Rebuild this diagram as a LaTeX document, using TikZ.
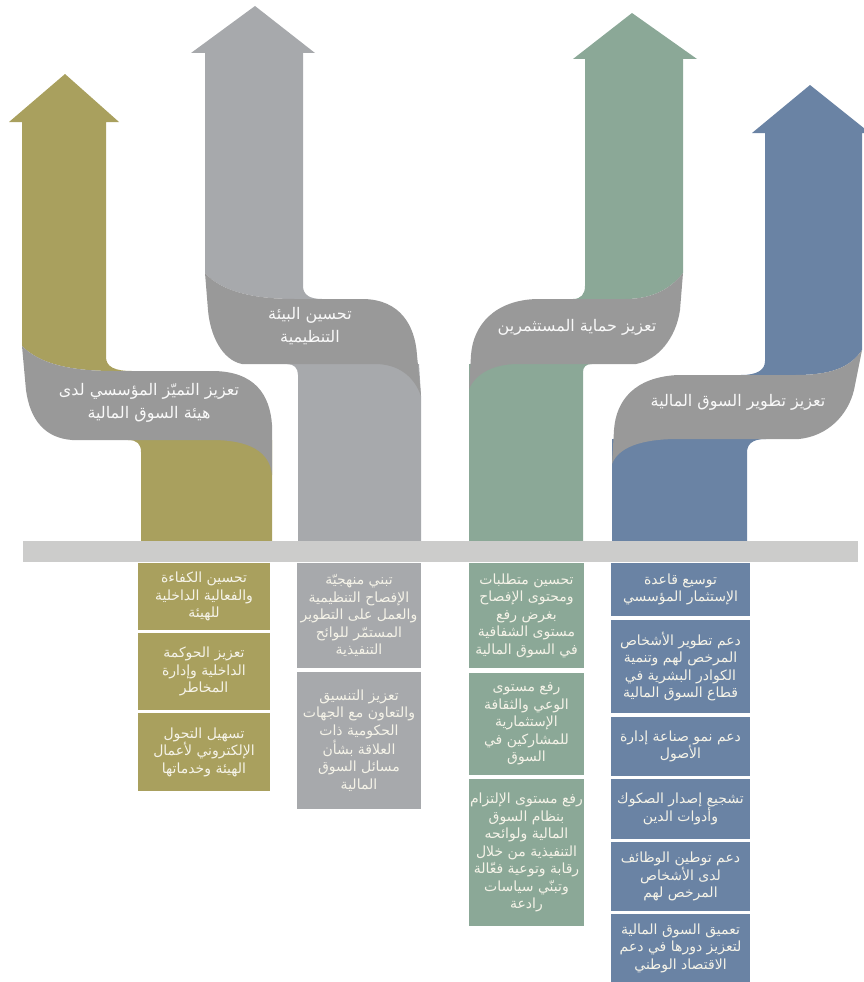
\documentclass[tikz,border=0pt]{standalone}
\usepackage{fontspec}
\TeXXeTstate=1
\newfontfamily\arabicfont[Script=Arabic]{DejaVu Sans}
\newcommand{\arl}[1]{\beginR #1\endR}
\definecolor{olivec}{RGB}{169,160,94}
\definecolor{graya}{RGB}{167,169,172}
\definecolor{greenc}{RGB}{139,168,151}
\definecolor{bluec}{RGB}{106,131,164}
\definecolor{bandc}{RGB}{153,153,153}
\definecolor{barc}{RGB}{204,204,203}
\definecolor{txtc}{RGB}{245,243,232}
\tikzset{
  boxs/.style={fill=#1, inner sep=0pt, align=center, text=txtc,
    font=\arabicfont\fontsize{14}{17.5}\selectfont},
  bandtxt/.style={align=center, text=white!95!gray,
    font=\arabicfont\fontsize{16}{23}\selectfont},
}
\begin{document}
\begin{tikzpicture}[x=1pt,y=-1pt]
\useasboundingbox (0,0) rectangle (864,982);
\clip (0,0) rectangle (864,982);
% ---------- column 1 (olive)
\fill[olivec] (65,74) -- (119,122) -- (106,122) -- (106,357) .. controls (106,367) and (115,371) .. (132,371) -- (115,371) .. controls (70,371) and (40,364) .. (22,346) -- (22,122) -- (9,122) -- cycle;
\fill[olivec] (141,541) -- (141,452) .. controls (141,444) and (137,440) .. (128,440) -- (272,440) -- (272,541) -- cycle;
\fill[bandc] (22,346) .. controls (40,364) and (70,371) .. (115,371) -- (212,371) .. controls (255,371) and (270,395) .. (272,425) -- (272,475) .. controls (270,452) and (250,440) .. (212,440) -- (72,440) .. controls (45,438) and (30,420) .. (26,390) -- cycle;
% ---------- column 2 (gray)
\fill[graya] (255,6) -- (315,53) -- (303,53) -- (303,286) .. controls (303,295) and (310,299) .. (322,299) -- (295,299) .. controls (255,299) and (222,292) .. (205,273) -- (205,53) -- (191,53) -- cycle;
\fill[graya] (298,541) -- (298,375) .. controls (298,368) and (294,364) .. (287,364) -- (419,364) -- (421,396) -- (421,541) -- cycle;
\fill[bandc] (205,273) .. controls (222,292) and (255,299) .. (295,299) -- (364,299) .. controls (400,300) and (415,325) .. (417,355) -- (421,396) .. controls (414,376) and (398,364) .. (375,364) -- (242,364) .. controls (222,360) and (210,335) .. (208,310) -- cycle;
% ---------- column 3 (green)
\fill[greenc] (632,13) -- (697,59) -- (683,59) -- (683,273) .. controls (668,292) and (648,299) .. (625,299) -- (573,299) .. controls (581,299) and (585,294) .. (585,286) -- (585,59) -- (573,59) -- cycle;
\fill[greenc] (469,364) -- (592,364) .. controls (586,364) and (583,367) .. (583,372) -- (583,541) -- (469,541) -- cycle;
\fill[bandc] (683,273) .. controls (668,292) and (648,299) .. (625,299) -- (537,299) .. controls (495,300) and (473,325) .. (471,355) -- (469,389) .. controls (476,373) and (494,364) .. (518,364) -- (636,364) .. controls (658,360) and (676,338) .. (680,310) -- cycle;
% ---------- column 4 (blue)
\fill[bluec] (810,85) -- (870,133) -- (862,133) -- (862,350) .. controls (850,368) and (830,375) .. (795,375) -- (741,375) .. controls (757,375) and (765,370) .. (765,361) -- (765,133) -- (752,133) -- cycle;
\fill[bluec] (612,439) -- (766,439) .. controls (751,439) and (747,445) .. (747,453) -- (747,541) -- (612,541) -- cycle;
\fill[bandc] (862,350) .. controls (850,368) and (830,375) .. (795,375) -- (678,375) .. controls (635,377) and (616,400) .. (614,430) -- (612,464) .. controls (618,448) and (640,439) .. (678,439) -- (799,439) .. controls (828,436) and (848,415) .. (854,390) -- cycle;
% ---------- band labels
\node[bandtxt] (t1) at (149,403) {\arl{تعزيز التميّز المؤسسي لدى}\\\arl{هيئة السوق المالية}};
\node[bandtxt] (t2) at (310,326) {\arl{تحسين البيئة}\\\arl{التنظيمية}};
\node[bandtxt] (t3) at (577,327) {\arl{تعزيز حماية المستثمرين}};
\node[bandtxt] (t4) at (738,402) {\arl{تعزيز تطوير السوق المالية}};
% ---------- bar
\fill[barc] (23,541) rectangle (858,562);
% ---------- olive boxes
\node[boxs=olivec, minimum width=132pt, minimum height=67pt] (o1) at (204,596.5) {\arl{تحسين الكفاءة}\\\arl{والفعالية الداخلية}\\\arl{للهيئة}};
\node[boxs=olivec, minimum width=132pt, minimum height=77pt] (o2) at (204,671.5) {\arl{تعزيز الحوكمة}\\\arl{الداخلية وإدارة}\\\arl{المخاطر}};
\node[boxs=olivec, minimum width=132pt, minimum height=78pt] (o3) at (204,752) {\arl{تسهيل التحول}\\\arl{الإلكتروني لأعمال}\\\arl{الهيئة وخدماتها}};
% ---------- gray boxes
\node[boxs=graya, minimum width=124pt, minimum height=105pt] (g1) at (359,615.5) {\arl{تبني منهجيّة}\\\arl{الإفصاح التنظيمية}\\\arl{والعمل على التطوير}\\\arl{المستمّر للوائح}\\\arl{التنفيذية}};
\node[boxs=graya, minimum width=124pt, minimum height=137pt] (g2) at (359,740.5) {\arl{تعزيز التنسيق}\\\arl{والتعاون مع الجهات}\\\arl{الحكومية ذات}\\\arl{العلاقة بشأن}\\\arl{مسائل السوق}\\\arl{المالية}};
% ---------- green boxes
\node[boxs=greenc, minimum width=115pt, minimum height=105pt] (n1) at (526.5,615.5) {\arl{تحسين متطلبات}\\\arl{ومحتوى الإفصاح}\\\arl{بغرض رفع}\\\arl{مستوى الشفافية}\\\arl{في السوق المالية}};
\node[boxs=greenc, minimum width=115pt, minimum height=102pt] (n2) at (526.5,724) {\arl{رفع مستوى}\\\arl{الوعي والثقافة}\\\arl{الإستثمارية}\\\arl{للمشاركين في}\\\arl{السوق}};
\node[boxs=greenc, minimum width=115pt, minimum height=147pt] (n3) at (526.5,852.5) {\arl{رفع مستوى الإلتزام}\\\arl{بنظام السوق}\\\arl{المالية ولوائحه}\\\arl{التنفيذية من خلال}\\\arl{رقابة وتوعية فعّالة}\\\arl{وتبنّي سياسات}\\\arl{رادعة}};
% ---------- blue boxes
\node[boxs=bluec, minimum width=139pt, minimum height=53pt] (b1) at (680.5,589.5) {\arl{توسيع قاعدة}\\\arl{الإستثمار المؤسسي}};
\node[boxs=bluec, minimum width=139pt, minimum height=93pt] (b2) at (680.5,666.5) {\arl{دعم تطوير الأشخاص}\\\arl{المرخص لهم وتنمية}\\\arl{الكوادر البشرية في}\\\arl{قطاع السوق المالية}};
\node[boxs=bluec, minimum width=139pt, minimum height=59pt] (b3) at (680.5,746.5) {\arl{دعم نمو صناعة إدارة}\\\arl{الأصول}};
\node[boxs=bluec, minimum width=139pt, minimum height=60pt] (b4) at (680.5,809) {\arl{تشجيع إصدار الصكوك}\\\arl{وأدوات الدين}};
\node[boxs=bluec, minimum width=139pt, minimum height=69pt] (b5) at (680.5,876.5) {\arl{دعم توطين الوظائف}\\\arl{لدى الأشخاص}\\\arl{المرخص لهم}};
\node[boxs=bluec, minimum width=139pt, minimum height=68pt] (b6) at (680.5,948) {\arl{تعميق السوق المالية}\\\arl{لتعزيز دورها في دعم}\\\arl{الاقتصاد الوطني}};
\end{tikzpicture}
\end{document}
